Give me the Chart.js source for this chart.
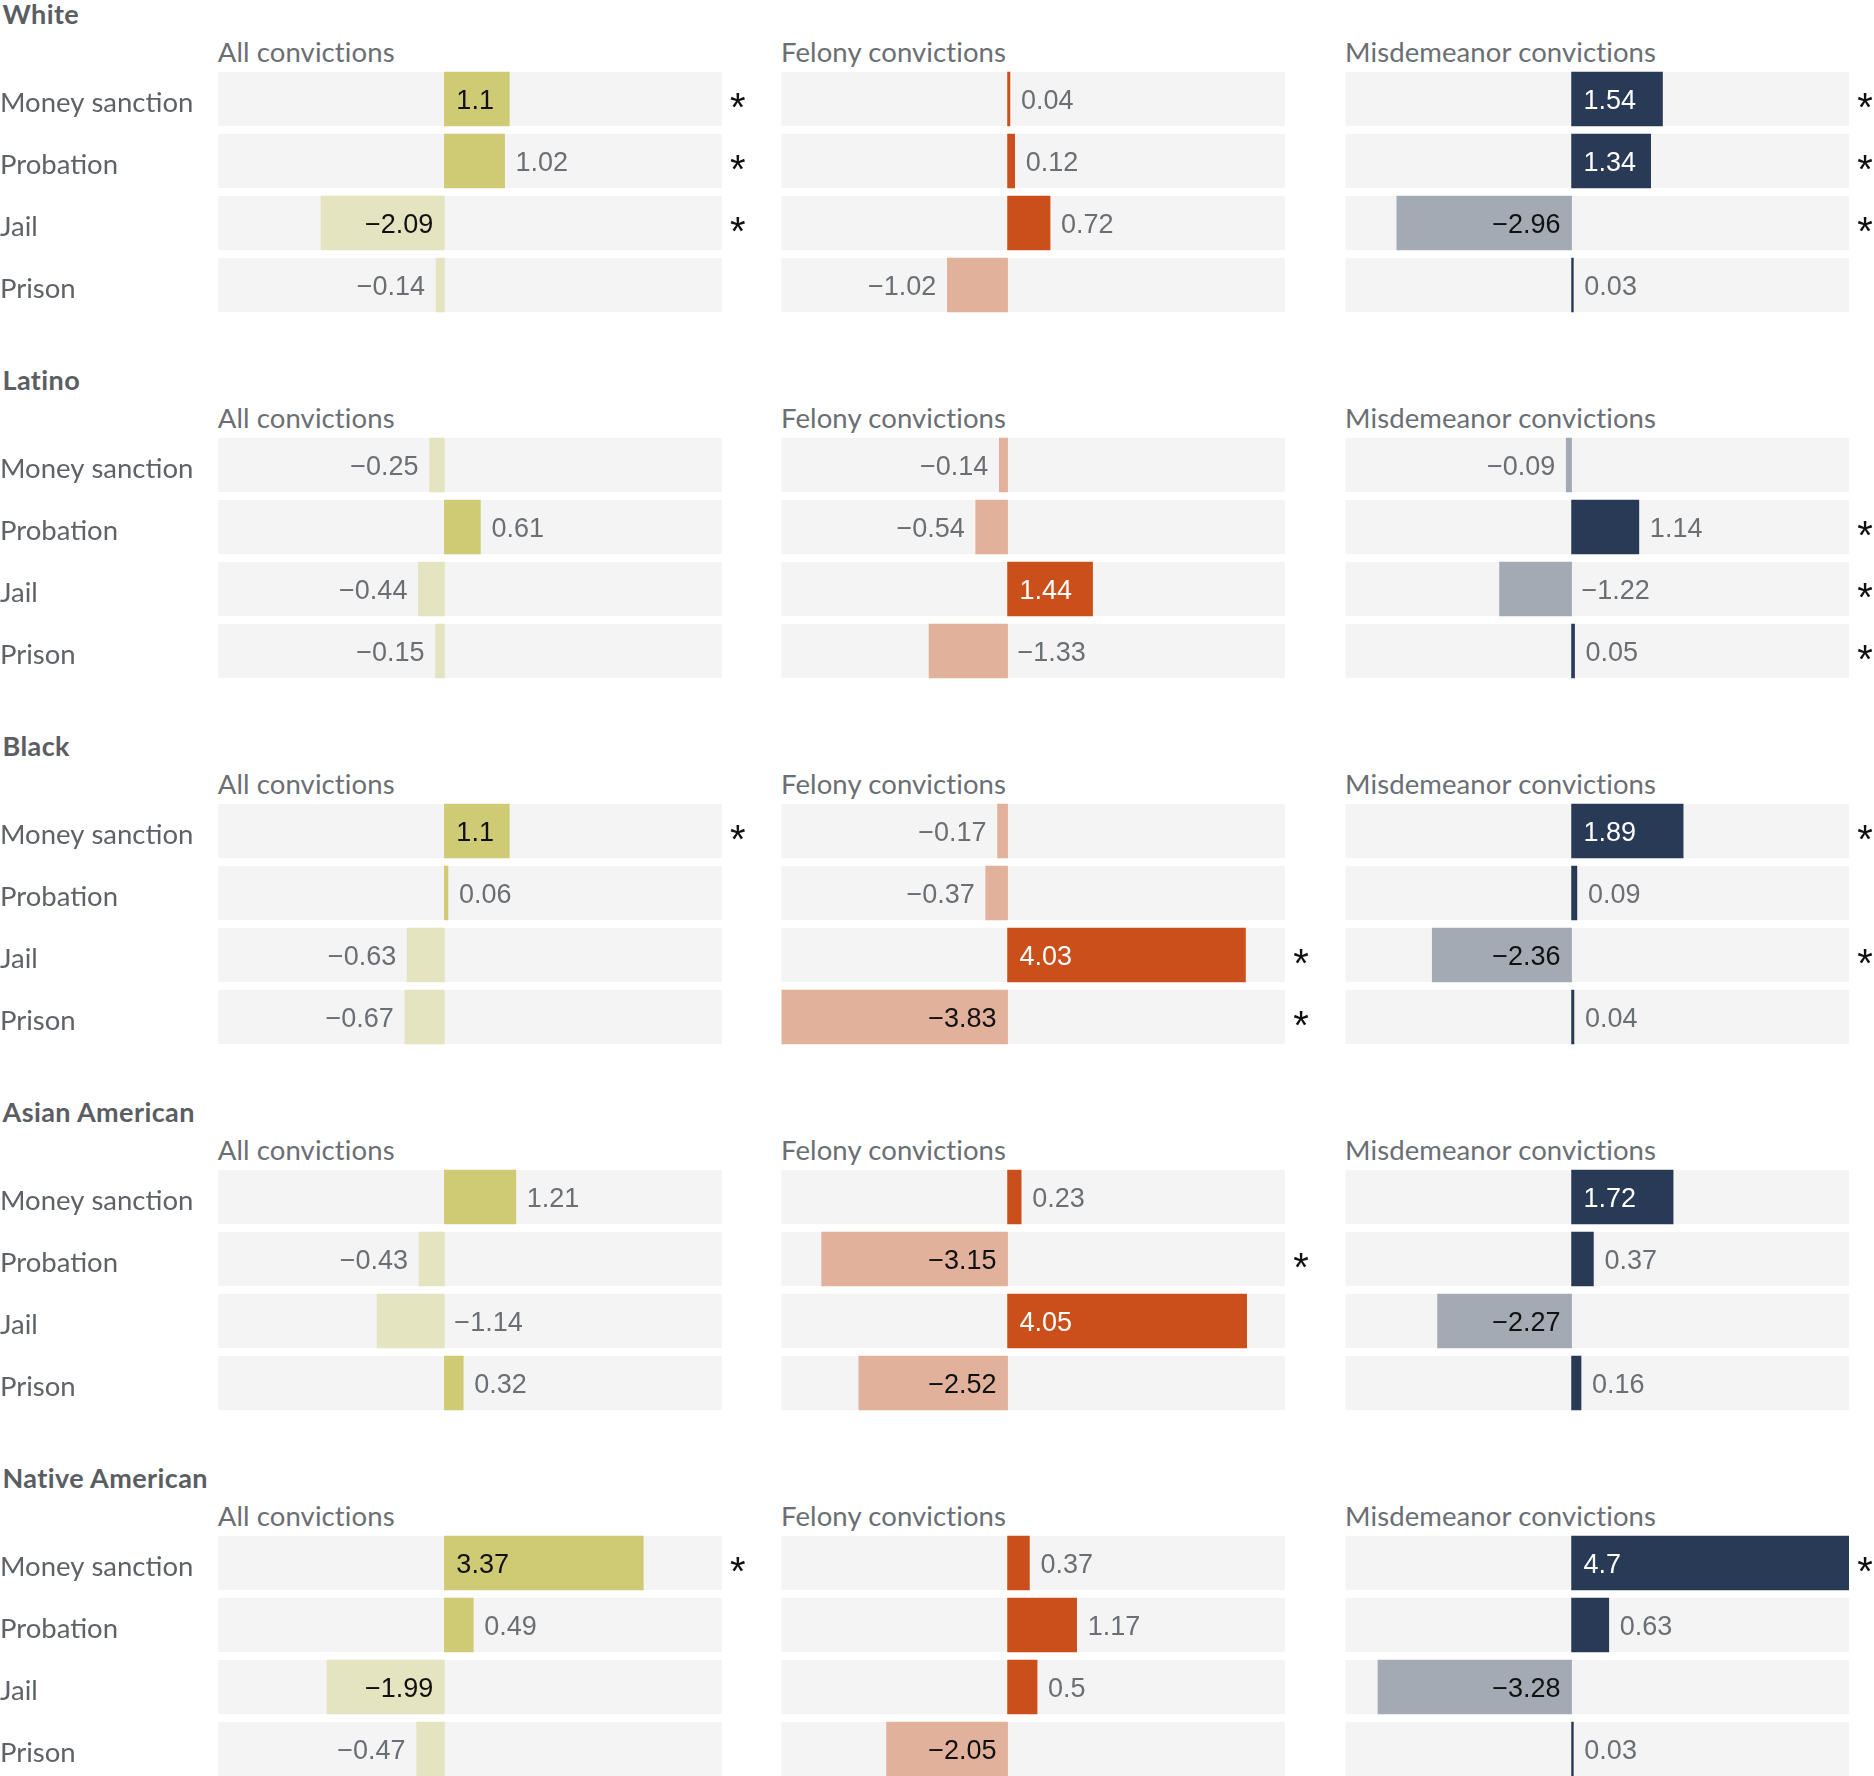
<!DOCTYPE html>
<html><head><meta charset="utf-8">
<script src="https://cdn.jsdelivr.net/npm/chart.js@4.4.1/dist/chart.umd.min.js"></script>
<style>
html,body{margin:0;padding:0;width:1874px;height:1776px;overflow:hidden;background:#fff;}
#wrap{position:relative;width:1874px;height:1776px;overflow:hidden;}
canvas{position:absolute;}
.t{position:absolute;font-family:Lato,"Open Sans",sans-serif;white-space:nowrap;margin:0;}
</style></head><body><div id="wrap"></div>
<script>
// ---------- data ----------
const groups = ["White", "Latino", "Black", "Asian American", "Native American"];
const panelTitles = ["All convictions", "Felony convictions", "Misdemeanor convictions"];
const outcomes = ["Money sanction", "Probation", "Jail", "Prison"];

const whiteAll      = [1.1, 1.02, -2.09, -0.14];
const whiteFelony   = [0.04, 0.12, 0.72, -1.02];
const whiteMisd     = [1.54, 1.34, -2.96, 0.03];
const latinoAll     = [-0.25, 0.61, -0.44, -0.15];
const latinoFelony  = [-0.14, -0.54, 1.44, -1.33];
const latinoMisd    = [-0.09, 1.14, -1.22, 0.05];
const blackAll      = [1.1, 0.06, -0.63, -0.67];
const blackFelony   = [-0.17, -0.37, 4.03, -3.83];
const blackMisd     = [1.89, 0.09, -2.36, 0.04];
const asianAll      = [1.21, -0.43, -1.14, 0.32];
const asianFelony   = [0.23, -3.15, 4.05, -2.52];
const asianMisd     = [1.72, 0.37, -2.27, 0.16];
const nativeAll     = [3.37, 0.49, -1.99, -0.47];
const nativeFelony  = [0.37, 1.17, 0.5, -2.05];
const nativeMisd    = [4.7, 0.63, -3.28, 0.03];

// statistically significant (asterisk) flags
const whiteSig  = [[1,1,1,0], [0,0,0,0], [1,1,1,0]];
const latinoSig = [[0,0,0,0], [0,0,0,0], [0,1,1,1]];
const blackSig  = [[1,0,0,0], [0,0,1,1], [1,0,1,0]];
const asianSig  = [[0,0,0,0], [0,1,0,0], [0,0,0,0]];
const nativeSig = [[1,0,0,0], [0,0,0,0], [1,0,0,0]];

const values = [
  [whiteAll, whiteFelony, whiteMisd],
  [latinoAll, latinoFelony, latinoMisd],
  [blackAll, blackFelony, blackMisd],
  [asianAll, asianFelony, asianMisd],
  [nativeAll, nativeFelony, nativeMisd]
];
const sigs = [whiteSig, latinoSig, blackSig, asianSig, nativeSig];

// ---------- style ----------
const posColors = ["#cfcb74", "#ca4f1a", "#293a56"];
const negColors = ["#e5e4c1", "#e2b19c", "#a3aab4"];
const darkPos   = [false, true, true];
const bandColor = "#f4f4f4";
const textGray  = "#6b6f74";
const labelGray = "#5f6368";
const titleGray = "#5a5e63";
const TEXT_FONT = 'Lato, "Open Sans", sans-serif';
const NUM_FONT  = '"Liberation Sans", Arial, sans-serif';

const BLOCK_PITCH = 366, CHART_TOP = 68, CHART_H = 248, BAR_H = 54;
const PANEL_LEFT = [218.3, 781.5, 1345.5], PANEL_W = 503.5;
const CANVAS_LEFT = [0, 760, 1320], CANVAS_W = [760, 560, 554];

const allVals = values.flat(2);
const xMin = Math.min(...allVals), xMax = Math.max(...allVals);

function fmt(v) { return v < 0 ? "\u2212" + String(-v) : String(v); }

const wrap = document.getElementById("wrap");

function addText(txt, left, baseline, size, weight, color, spacing) {
  const d = document.createElement("div");
  d.className = "t";
  d.textContent = txt;
  d.style.fontSize = size + "px";
  d.style.fontWeight = weight;
  d.style.color = color;
  d.style.letterSpacing = (spacing || 0) + "px";
  d.style.lineHeight = (size * 1.2) + "px";
  d.style.left = left + "px";
  d.style.top = (baseline - 0.987 * size) + "px";
  wrap.appendChild(d);
}

const barPlugin = {
  id: "barDeco",
  beforeDatasetsDraw(chart) {
    const ctx = chart.ctx, ca = chart.chartArea, ys = chart.scales.y;
    ctx.save();
    ctx.fillStyle = bandColor;
    chart.data.labels.forEach((l, i) => {
      const y = ys.getPixelForValue(i);
      ctx.fillRect(ca.left, y - BAR_H / 2, ca.right - ca.left, BAR_H);
    });
    ctx.restore();
  },
  afterDatasetsDraw(chart, args, opts) {
    const ctx = chart.ctx, ca = chart.chartArea;
    const meta = chart.getDatasetMeta(0);
    const vals = chart.data.datasets[0].data;
    const p = opts.panel, sig = opts.sig;
    ctx.save();
    ctx.font = '27px ' + NUM_FONT;
    ctx.textBaseline = "middle";
    meta.data.forEach((bar, i) => {
      const v = vals[i];
      const txt = fmt(v);
      const tw = ctx.measureText(txt).width;
      const bw = Math.abs(bar.x - bar.base);
      const y = bar.y + 3;
      const inside = bw - tw >= 23;
      if (inside) {
        ctx.fillStyle = (v > 0 && darkPos[p]) ? "#ffffff" : "#111111";
        if (v >= 0) { ctx.textAlign = "left"; ctx.fillText(txt, bar.base + 12, y); }
        else { ctx.textAlign = "right"; ctx.fillText(txt, bar.base - 11, y); }
      } else {
        ctx.fillStyle = textGray;
        if (v >= 0) { ctx.textAlign = "left"; ctx.fillText(txt, bar.x + 11, y); }
        else if (bw + tw + 22 < 154) { ctx.textAlign = "right"; ctx.fillText(txt, bar.x - 11, y); }
        else { ctx.textAlign = "left"; ctx.fillText(txt, bar.base + 10, y); }
      }
      if (sig[i]) {
        ctx.save();
        ctx.fillStyle = "#111111";
        ctx.font = '40px ' + NUM_FONT;
        ctx.textAlign = "center";
        ctx.textBaseline = "alphabetic";
        ctx.fillText("*", ca.right + 16, bar.y + 22);
        ctx.restore();
      }
    });
    ctx.restore();
  }
};

groups.forEach((g, b) => {
  const top = b * BLOCK_PITCH;
  addText(g, 2.5, top + 25, 27, 700, titleGray, 0.4);
  panelTitles.forEach((pt, p) => {
    addText(pt, PANEL_LEFT[p] - 0.5, top + 61.7, 27.5, 400, textGray, 0.1);
    const cv = document.createElement("canvas");
    cv.width = CANVAS_W[p]; cv.height = CHART_H;
    cv.style.left = CANVAS_LEFT[p] + "px";
    cv.style.top = (top + CHART_TOP) + "px";
    cv.style.width = CANVAS_W[p] + "px";
    cv.style.height = CHART_H + "px";
    wrap.appendChild(cv);
    const data = values[b][p];
    const padLeft = p === 0 ? 0 : PANEL_LEFT[p] - CANVAS_LEFT[p];
    const padRight = CANVAS_LEFT[p] + CANVAS_W[p] - (PANEL_LEFT[p] + PANEL_W);
    const yScale = {
      type: "category",
      display: p === 0,
      grid: { display: false, drawTicks: false },
      border: { display: false },
      ticks: {
        crossAlign: "far",
        padding: 0,
        labelOffset: 4,
        color: labelGray,
        font: { family: TEXT_FONT, size: 27.5 }
      }
    };
    if (p === 0) {
      yScale.afterFit = function (scale) {
        scale.width = PANEL_LEFT[0];
        scale.paddingTop = 0;
        scale.paddingBottom = 0;
      };
    }
    new Chart(cv, {
      type: "bar",
      data: {
        labels: outcomes,
        datasets: [{
          data: data,
          backgroundColor: data.map(v => v >= 0 ? posColors[p] : negColors[p]),
          borderWidth: 0,
          barThickness: BAR_H
        }]
      },
      options: {
        indexAxis: "y",
        responsive: false,
        maintainAspectRatio: false,
        devicePixelRatio: 1,
        animation: false,
        layout: { padding: { left: padLeft, right: padRight, top: 0, bottom: 0 } },
        scales: {
          x: { type: "linear", min: xMin, max: xMax, display: false },
          y: yScale
        },
        plugins: {
          legend: { display: false },
          tooltip: { enabled: false },
          barDeco: { panel: p, sig: sigs[b][p] }
        }
      },
      plugins: [barPlugin]
    });
  });
});
</script></body></html>
